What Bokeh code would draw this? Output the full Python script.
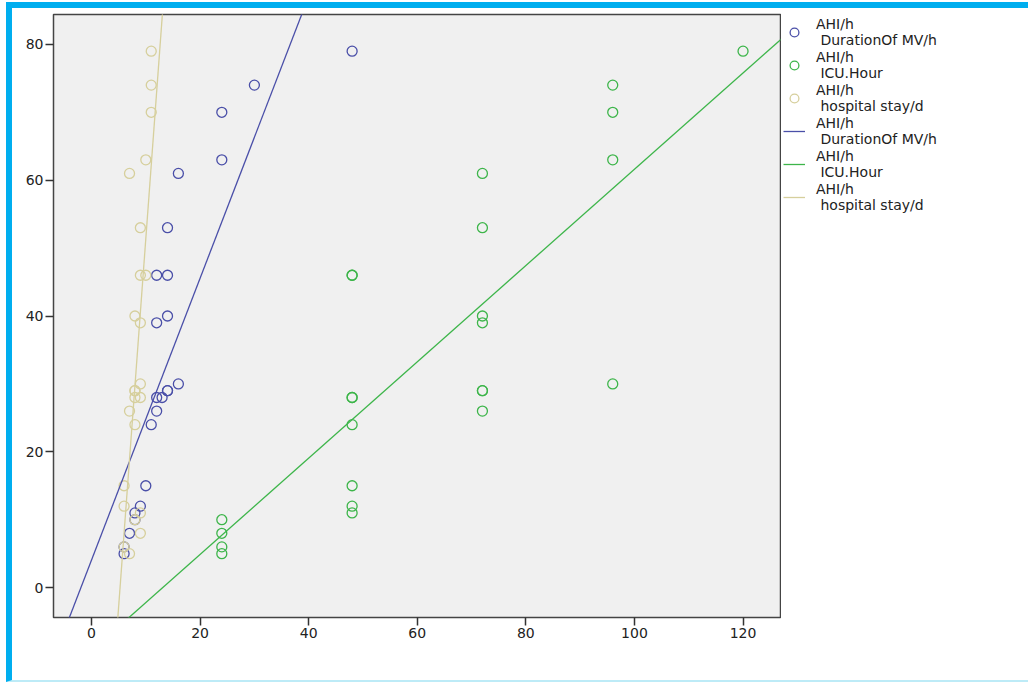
import numpy as np
from bokeh.plotting import figure
from bokeh.layouts import row
from bokeh.models import Legend, LegendItem, FixedTicker
from bokeh.embed import file_html
from bokeh.resources import INLINE

# AHI/h (y) against three durations (x)
ahi = [79, 74, 70, 63, 61, 53, 46, 46, 40, 39, 30, 29, 29, 28, 28, 26, 24, 15, 12, 11, 10, 8, 6, 5]
mv_hours = [48, 30, 24, 24, 16, 14, 12, 14, 14, 12, 16, 14, 14, 12, 13, 12, 11, 10, 9, 8, 8, 7, 6, 6]
icu_hours = [120, 96, 96, 96, 72, 72, 48, 48, 72, 72, 96, 72, 72, 48, 48, 72, 48, 48, 48, 48, 24, 24, 24, 24]
stay_days = [11, 11, 11, 10, 7, 9, 9, 10, 8, 9, 9, 8, 8, 9, 8, 7, 8, 6, 6, 9, 8, 9, 6, 7]

series_labels = ["AHI/h\n DurationOf MV/h", "AHI/h\n ICU.Hour", "AHI/h\n hospital stay/d"]
series_colors = ["#4A4FA8", "#3DB54A", "#D6CF9C"]
x_ticks = [0, 20, 40, 60, 80, 100, 120]
y_ticks = [0, 20, 40, 60, 80]

H = 672
W_MAIN = 769
W_LEG = 1016 - W_MAIN

p = figure(width=W_MAIN, height=H, output_backend="svg", toolbar_location=None,
           x_range=(-7.0, 126.9), y_range=(-4.4, 84.4),
           min_border_left=41, min_border_top=6, min_border_bottom=63, min_border_right=1)
p.background_fill_color = "#F0F0F0"
p.border_fill_color = "white"
p.outline_line_color = "#444444"
p.outline_line_width = 1.5
p.xgrid.visible = False
p.ygrid.visible = False

for ax in (p.xaxis[0], p.yaxis[0]):
    ax.axis_line_color = None
    ax.major_tick_line_color = "#333333"
    ax.major_tick_line_width = 1.5
    ax.major_tick_in = 0
    ax.major_tick_out = 8
    ax.major_label_standoff = 2
    ax.minor_tick_line_color = None
    ax.major_label_text_font = "DejaVu Sans"
    ax.major_label_text_font_size = "14px"
    ax.major_label_text_color = "#222222"
p.xaxis.ticker = FixedTicker(ticks=x_ticks)
p.yaxis.ticker = FixedTicker(ticks=y_ticks)

xs_all = [mv_hours, icu_hours, stay_days]
yv = np.array(ahi, dtype=float)
fits = []
for xs, col in zip(xs_all, series_colors):
    p.scatter(xs, ahi, size=10, marker="circle", fill_color=None, line_color=col, line_width=1.3)
for xs, col in zip(xs_all, series_colors):
    xv = np.array(xs, dtype=float)
    slope, icpt = np.polyfit(xv, yv, 1)
    lx = np.array([-20.0, 140.0])
    fits.append((lx, slope * lx + icpt))
    p.line(lx, slope * lx + icpt, line_color=col, line_width=1.3)

# legend panel: a separate figure whose view range shows none of the data,
# so only its legend is visible to the right of the main frame
lf = figure(width=W_LEG, height=H, output_backend="svg", toolbar_location=None,
            x_range=(-1000, -999), y_range=(-1000, -999),
            x_axis_location=None, y_axis_location=None,
            min_border_left=0, min_border_right=0, min_border_top=6, min_border_bottom=0)
lf.xgrid.visible = False
lf.ygrid.visible = False
lf.outline_line_color = None
lf.background_fill_color = "white"
lf.border_fill_color = "white"

sc_leg = [lf.scatter(xs, ahi, size=10, marker="circle", fill_color=None, line_color=c, line_width=1.3)
          for xs, c in zip(xs_all, series_colors)]
ln_leg = [lf.line(fx, fy, line_color=c, line_width=1.3) for (fx, fy), c in zip(fits, series_colors)]
items = [LegendItem(label=l, renderers=[r]) for l, r in zip(series_labels, sc_leg)]
items += [LegendItem(label=l, renderers=[r]) for l, r in zip(series_labels, ln_leg)]
legend = Legend(items=items, location="top_left", margin=2, padding=2, spacing=1,
                border_line_color=None, background_fill_alpha=0,
                label_text_font="DejaVu Sans", label_text_font_size="14px",
                label_text_line_height=0.88,
                label_text_color="#222222", label_height=26, glyph_height=26, glyph_width=22,
                label_standoff=11)
lf.add_layout(legend, "center")

root = row(p, lf, styles={"border-top": "6px solid #00AEEF", "border-left": "6px solid #00AEEF",
                          "border-bottom": "2px solid #BDEBF7",
                          "margin-top": "2px", "margin-left": "6px"})
open("out.html", "w").write(file_html(root, INLINE))
